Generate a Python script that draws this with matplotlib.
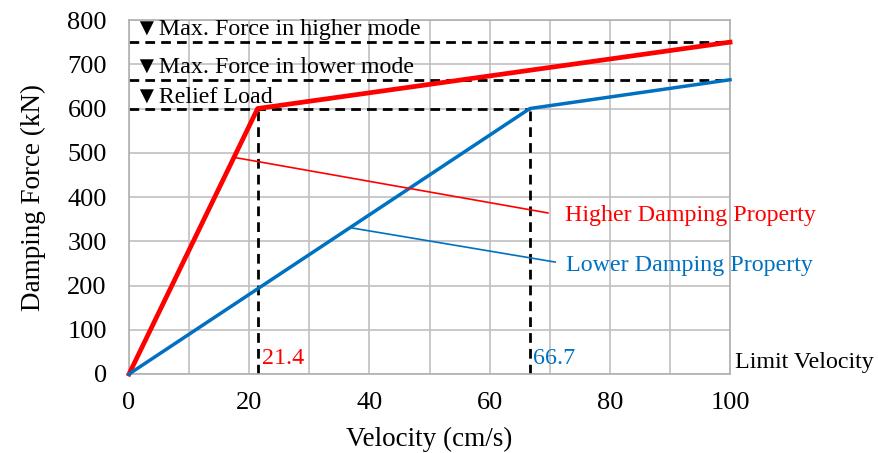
import numpy as np
import matplotlib.pyplot as plt

plt.rcParams['font.family'] = ['Liberation Serif', 'DejaVu Sans']

# data
higher_v = [0, 21.4, 100]
higher_f = [0, 600, 750]
lower_v = [0, 66.7, 100]
lower_f = [0, 600, 665]
relief_load = 600
max_higher = 750
max_lower = 665
limit_higher = 21.4
limit_lower = 66.7

red = '#FF0000'
blue = '#0070C0'

fig = plt.figure(figsize=(8.79, 4.53), dpi=100)
ax = fig.add_axes([0.1468, 0.1744, 0.6837, 0.7814])

# grid
ax.set_xlim(0, 100)
ax.set_ylim(0, 800)
ax.set_xticks(np.arange(0, 101, 20))
ax.set_xticks(np.arange(0, 101, 10), minor=True)
ax.set_yticks(np.arange(0, 801, 100))
ax.grid(which='both', color='#C0C0C0', lw=1.2, zorder=0)
ax.tick_params(which='both', length=0, labelsize=19)
ax.tick_params(axis='x', pad=13)
ax.tick_params(axis='y', pad=16)
for s in ax.spines.values():
    s.set_color('#B0B0B0')
    s.set_linewidth(1.2)

# dashed reference lines
dash = (3.5, 2.2)
ax.plot([0, 100], [max_higher, max_higher], 'k--', lw=2, dashes=dash, zorder=2)
ax.plot([0, 100], [max_lower, max_lower], 'k--', lw=2, dashes=dash, zorder=2)
ax.plot([0, limit_lower], [relief_load, relief_load], 'k--', lw=2, dashes=dash, zorder=2)
ax.plot([limit_higher, limit_higher], [0, relief_load], 'k--', lw=2, dashes=dash, zorder=2)
ax.plot([limit_lower, limit_lower], [0, relief_load], 'k--', lw=2, dashes=dash, zorder=2)

# curves
ax.plot(higher_v, higher_f, color=red, lw=3.4, zorder=3, clip_on=False)
ax.plot(lower_v, lower_f, color=blue, lw=2.5, zorder=3, clip_on=False)

# leader lines and labels
ax.plot([17.3, 69.7], [490, 364], color=red, lw=1.2, zorder=3)
ax.plot([37.1, 70.9], [330, 253], color=blue, lw=1.2, zorder=3)
ax.text(72.5, 359, 'Higher Damping Property', color=red, fontsize=17.3, va='center')
ax.text(72.7, 246, 'Lower Damping Property', color=blue, fontsize=17.3, va='center')

ax.text(limit_higher + 0.8, 36, f'{limit_higher}', color=red, fontsize=17.3, va='center')
ax.text(limit_lower + 0.6, 36, f'{limit_lower}', color=blue, fontsize=17.3, va='center')
ax.text(100.8, 26, 'Limit Velocity', color='black', fontsize=17.3, va='center')

ax.text(1, max_higher + 4, '▼Max. Force in higher mode', fontsize=17.3, va='bottom')
ax.text(1, max_lower + 4, '▼Max. Force in lower mode', fontsize=17.3, va='bottom')
ax.text(1, relief_load + 3, '▼Relief Load', fontsize=17.3, va='bottom')

ax.set_xlabel('Velocity (cm/s)', fontsize=19.5, labelpad=9)
ax.set_ylabel('Damping Force (kN)', fontsize=19.5, labelpad=15)

fig.savefig('out.png', dpi=100)
